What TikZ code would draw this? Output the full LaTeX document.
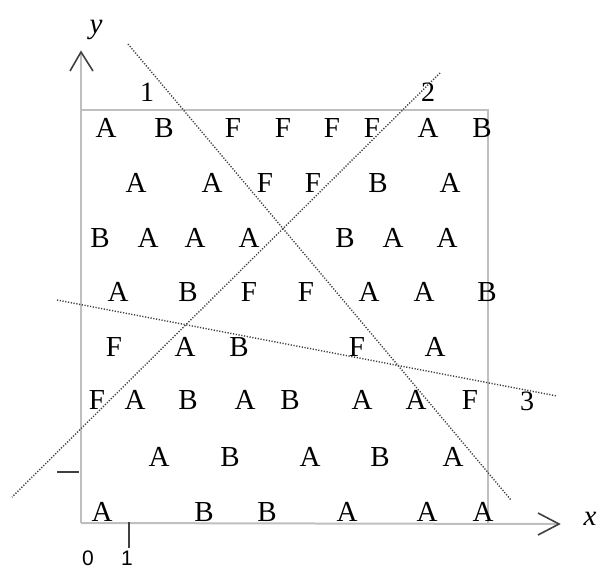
\documentclass[tikz,border=0pt]{standalone}
\usepackage{fontspec}
\setmainfont{Liberation Serif}
\newfontfamily\axisfont{Liberation Sans}
\usetikzlibrary{positioning}

\begin{document}
\begin{tikzpicture}[
                    x=1pt, y=-1pt,
                    cell/.style={inner sep=0pt, text=black, font=\fontsize{29}{30}\selectfont},
                    tag/.style={inner sep=0pt, text=black, font=\fontsize{28}{30}\selectfont},
                    axis/.style={draw=gray!50, line width=2pt},
                    tick/.style={draw=black!75, line width=1.6pt},
                    cut/.style={draw=black!75, line width=1.4pt, dash pattern=on 1.2pt off 1.6pt}
                ]
                \useasboundingbox (0,0) rectangle (601,570);

                % --- Axes and frame ---
                \coordinate (origin) at (81,523);
                \coordinate (ytop) at (81,52);
                \coordinate (xend) at (559,524);
                \coordinate (tl) at (81,110);
                \coordinate (tr) at (488,110);
                \coordinate (br) at (488,523);

                \draw[axis] (origin) -- (ytop);
                \draw[axis] (origin) -- (xend);
                \draw[axis] (tl) -- (tr) -- (br);
                \draw[tick] (70,71) -- (ytop) -- (93,71);
                \draw[tick] (538,513) -- (xend) -- (538,535);
                \draw[tick] (57,472) -- (79,472);
                \draw[tick] (129,522) -- (129,548);

                \node[tag, font=\fontsize{29}{30}\selectfont\itshape] (ylab) at (96,30) {y};
                \node[tag, font=\fontsize{29}{30}\selectfont\itshape] (xlab) at (590,519) {x};
                \node[inner sep=0pt, font=\fontsize{21}{24}\selectfont\axisfont] (zero) at (88,558) {0};
                \node[inner sep=0pt, font=\fontsize{21}{24}\selectfont\axisfont] (one) at (127,558) {1};

                % --- Letters ---
                \foreach \r/\y/\row in {
                    1/128/{106/A,164/B,233/F,283/F,332/F,372/F,428/A,482/B},
                    2/183/{136/A,212/A,265/F,313/F,378/B,450/A},
                    3/238/{100/B,148/A,195/A,249/A,345/B,393/A,447/A},
                    4/292/{118/A,188/B,249/F,306/F,369/A,424/A,487/B},
                    5/347/{114/F,185/A,239/B,357/F,435/A},
                    6/400/{97/F,135/A,188/B,245/A,290/B,362/A,416/A,470/F},
                    7/457/{159/A,230/B,310/A,380/B,453/A},
                    8/512/{102/A,204/B,267/B,347/A,427/A,483/A}} {
                    \foreach \x/\l [count=\c] in \row {
                        \node[cell] (r\r-\c) at (\x,\y) {\l};
                    }
                }

                % --- Cutting lines ---
                \coordinate (c1a) at (128,44);
                \coordinate (c1b) at (511,500);
                \coordinate (c2a) at (440,73);
                \coordinate (c2b) at (12,497);
                \coordinate (c3a) at (57,300);
                \coordinate (c3b) at (557,396);

                \draw[cut] (c1a) -- (c1b);
                \draw[cut] (c2a) -- (c2b);
                \draw[cut] (c3a) -- (c3b);

                \node[tag] (n1) at (147,92) {1};
                \node[tag] (n2) at (428,92) {2};
                \node[tag] (n3) at (527,401) {3};

                \end{tikzpicture}
\end{document}
